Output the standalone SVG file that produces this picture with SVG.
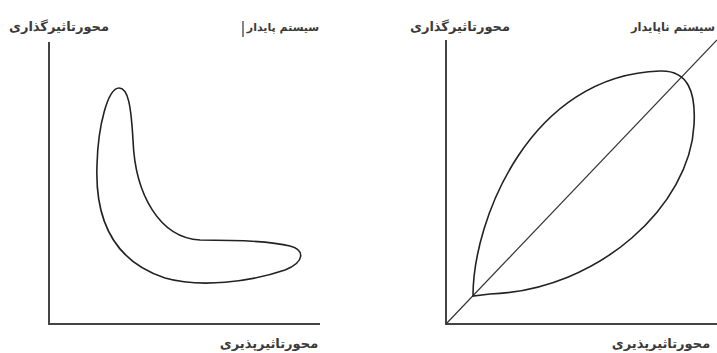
<svg xmlns="http://www.w3.org/2000/svg" width="717" height="353" viewBox="0 0 717 353">
<style>
.lbl{font-family:"DejaVu Sans",sans-serif;font-size:13px;font-weight:bold;fill:#3a3a3a;text-anchor:middle}
.sm{font-size:11px}
.axis{stroke:#444;stroke-width:2;fill:none}
.curve{stroke:#222;stroke-width:1.6;fill:none}
.thin{stroke:#333;stroke-width:1.2;fill:none}
</style>
<rect width="717" height="353" fill="#fff"/>
<g id="stable-panel">
<line class="axis" x1="49" y1="42" x2="49" y2="325"/>
<line class="axis" x1="48" y1="324" x2="320" y2="324"/>
<path class="curve" d="M119,88 C108,88 98,125 97,165 C95,215 110,260 165,278 C200,288 250,282 285,270 C305,262 305,250 290,246 C270,241 230,240 200,240 C160,238 135,195 133,140 C131,105 128,88 119,88 Z"/>
<text class="lbl" x="59" y="31" direction="rtl">محورتاثیرگذاری</text>
<text class="lbl sm" x="283" y="31" direction="rtl">سیستم پایدار</text>
<line x1="243" y1="21" x2="243" y2="37" stroke="#333" stroke-width="1.2"/>
<text class="lbl" x="269" y="348" direction="rtl">محورتاثیرپذیری</text>
</g>
<g id="unstable-panel">
<line class="axis" x1="446" y1="40" x2="446" y2="325"/>
<line class="axis" x1="445" y1="324" x2="717" y2="324"/>
<line class="thin" x1="446" y1="324" x2="717" y2="40"/>
<path class="curve" d="M473,296 C473,220 530,75 660,71 C688,70 696,92 694,125 C690,205 600,290 490,294 Z"/>
<text class="lbl" x="460" y="31" direction="rtl">محورتاثیرگذاری</text>
<text class="lbl" x="673" y="31" direction="rtl" style="font-size:11.5px">سیستم ناپایدار</text>
<text class="lbl" x="661" y="348" direction="rtl">محورتاثیرپذیری</text>
</g>
</svg>
